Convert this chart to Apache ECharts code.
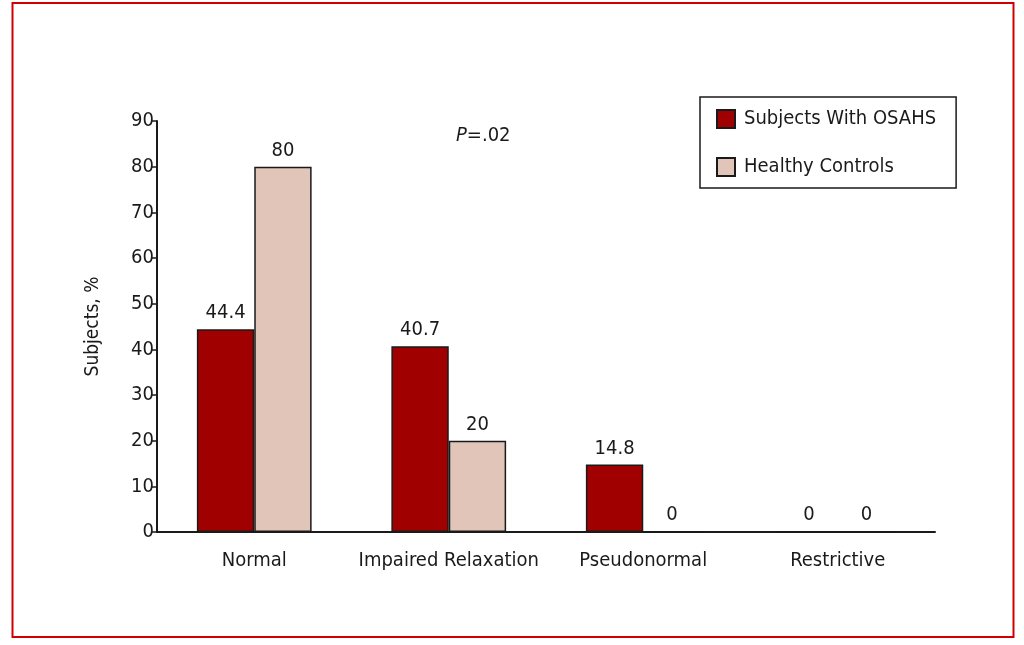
<!DOCTYPE html>
<html>
<head>
<meta charset="utf-8">
<script src="https://cdn.jsdelivr.net/npm/echarts@6/dist/echarts.min.js"></script>
<style>html,body{margin:0;padding:0;background:#fff;}#c{width:1024px;height:645px;}</style>
</head>
<body>
<div id="c"></div>
<script>
var categories = ['Normal', 'Impaired Relaxation', 'Pseudonormal', 'Restrictive'];
var osahs = [44.4, 40.7, 14.8, 0];
var controls = [80, 20, 0, 0];
var seriesNames = ['Subjects With OSAHS', 'Healthy Controls'];
var yTicks = [0, 10, 20, 30, 40, 50, 60, 70, 80, 90];

var FONT = '"DejaVu Sans Condensed", "Liberation Sans", sans-serif';
var chart = echarts.init(document.getElementById('c'));
var lbl = { show: true, position: 'top', distance: 6, color: '#1a1a1a', fontSize: 20, fontFamily: FONT };
chart.setOption({
  animation: false,
  grid: { left: 157, right: 89, top: 121, bottom: 113, containLabel: false },
  legend: {
    data: seriesNames,
    orient: 'vertical',
    left: 700, top: 97,
    borderColor: '#1a1a1a', borderWidth: 1.5,
    padding: [12, 20, 11, 16],
    itemWidth: 18, itemHeight: 18, itemGap: 28,
    icon: 'rect',
    textStyle: { fontSize: 20, fontFamily: FONT, color: '#1a1a1a', padding: [0, 0, 0, 4] },
    selectedMode: false
  },
  xAxis: {
    type: 'category', data: categories,
    axisLine: { lineStyle: { color: '#1a1a1a', width: 2 } },
    axisTick: { show: false },
    axisLabel: { color: '#1a1a1a', fontSize: 20, fontFamily: FONT, margin: 19, interval: 0 }
  },
  yAxis: {
    type: 'value', min: 0, max: 90, interval: 10,
    name: 'Subjects, %', nameLocation: 'middle', nameGap: 54, nameRotate: 90,
    nameTextStyle: { color: '#1a1a1a', fontSize: 19, fontFamily: FONT },
    axisLine: { show: true, lineStyle: { color: '#1a1a1a', width: 2 } },
    axisTick: { show: true, length: 6, lineStyle: { color: '#1a1a1a', width: 1.5 } },
    axisLabel: { color: '#1a1a1a', fontSize: 20, fontFamily: FONT, margin: 3,
      formatter: function (v) { return yTicks.indexOf(v) >= 0 ? String(v) : ''; } },
    splitLine: { show: false }
  },
  series: [
    { name: seriesNames[0], type: 'bar', data: osahs, barGap: '0%', barCategoryGap: '41%',
      itemStyle: { color: '#a00000', borderColor: '#1a1a1a', borderWidth: 1.5 }, label: lbl },
    { name: seriesNames[1], type: 'bar', data: controls,
      itemStyle: { color: '#e0c5b8', borderColor: '#1a1a1a', borderWidth: 1.5 }, label: lbl }
  ],
  graphic: [
    { type: 'rect', shape: { x: 12.5, y: 3, width: 1001, height: 634 },
      style: { fill: 'none', stroke: '#d00000', lineWidth: 2 }, silent: true },
    { type: 'text', left: 456, top: 126,
      style: { rich: { i: { fontStyle: 'italic', fontSize: 20, fontFamily: FONT, fill: '#1a1a1a' },
                       n: { fontSize: 20, fontFamily: FONT, fill: '#1a1a1a' } },
               text: '{i|P}{n|=.02}' } }
  ]
});
</script>
</body>
</html>
